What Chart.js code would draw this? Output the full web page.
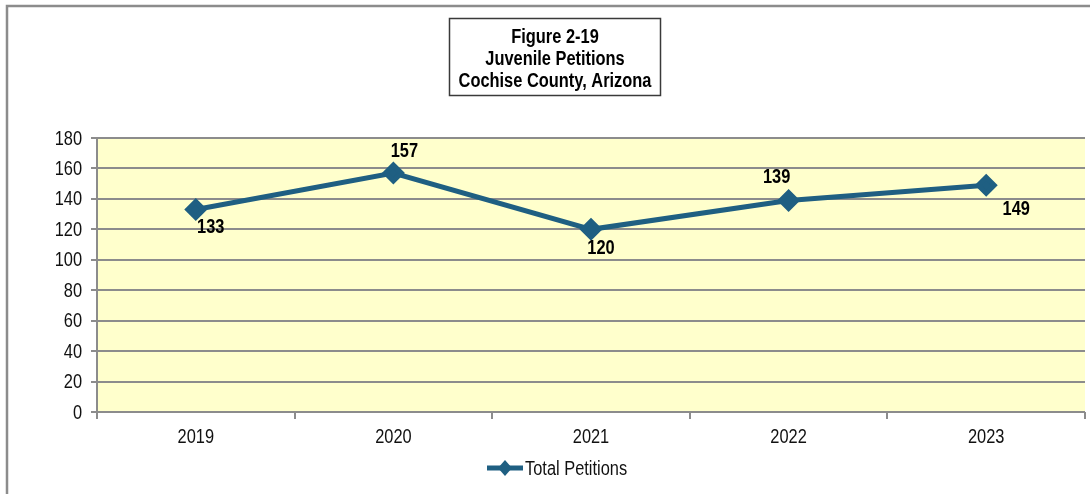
<!DOCTYPE html>
<html lang="en">
<head>
<meta charset="utf-8">
<title>Juvenile Petitions - Cochise County</title>
<script src="https://cdn.jsdelivr.net/npm/chart.js"></script>
<style>
  html, body { margin: 0; padding: 0; background: #fff; }
  #wrap { width: 1090px; height: 494px; position: relative; }
</style>
</head>
<body>
<div id="wrap"><canvas id="myChart"></canvas></div>
<script>
// data
var years = ['2019', '2020', '2021', '2022', '2023'];
var petitions = [133, 157, 120, 139, 149];
var seriesName = 'Total Petitions';
var titleLines = ['Figure 2-19', 'Juvenile Petitions', 'Cochise County, Arizona'];

// where each value label sits relative to its point (dx, dy)
var labelOffsets = [[15, 18], [11, -22], [10, 19], [-12, -23], [30, 24]];

var FONT = "'Liberation Sans', Arial, sans-serif";
var NARROW = 0.82;   // horizontal squeeze to get an Arial Narrow look
var LINE = '#1f5f82';
var GRID = '#8c8c8c';

function narrowText(ctx, text, x, y, align) {
  ctx.save();
  ctx.translate(x, y);
  ctx.scale(NARROW, 1);
  ctx.textAlign = align || 'center';
  ctx.fillText(text, 0, 0);
  ctx.restore();
}

// frame, plot background, title box, tick labels, value labels and legend
var decor = {
  id: 'decor',
  beforeDraw: function (chart) {
    var ctx = chart.ctx, a = chart.chartArea;
    ctx.save();
    ctx.fillStyle = '#ffffcc';
    ctx.fillRect(a.left, a.top, a.right - a.left, a.bottom - a.top);
    ctx.strokeStyle = GRID;
    ctx.lineWidth = 2.5;
    ctx.strokeRect(7, 6, 1100, 520);
    ctx.restore();
  },
  afterDraw: function (chart) {
    var ctx = chart.ctx;
    ctx.save();
    ctx.textBaseline = 'middle';

    // title box
    ctx.fillStyle = '#fff';
    ctx.fillRect(449, 18, 212, 78);
    ctx.strokeStyle = '#3a3a3a';
    ctx.lineWidth = 1.5;
    ctx.strokeRect(449.5, 18.5, 211, 77);
    ctx.fillStyle = '#000';
    ctx.font = 'bold 20px ' + FONT;
    titleLines.forEach(function (t, i) {
      narrowText(ctx, t, 555, 37 + i * 22);
    });

    // axis tick labels
    ctx.fillStyle = '#111';
    ctx.font = '20px ' + FONT;
    var xs = chart.scales.x, ys = chart.scales.y;
    xs.ticks.forEach(function (t, i) {
      narrowText(ctx, xs.getLabelForValue(t.value), xs.getPixelForTick(i), 437);
    });
    ys.ticks.forEach(function (t, i) {
      narrowText(ctx, String(t.value), ys.left + 82, ys.getPixelForTick(i) + 1, 'right');
    });

    // value labels
    var meta = chart.getDatasetMeta(0);
    ctx.fillStyle = '#000';
    ctx.font = 'bold 20px ' + FONT;
    meta.data.forEach(function (pt, i) {
      var o = labelOffsets[i];
      narrowText(ctx, String(petitions[i]), pt.x + o[0], pt.y + o[1]);
    });

    // legend
    var ly = 468;
    ctx.strokeStyle = LINE;
    ctx.lineWidth = 5;
    ctx.beginPath();
    ctx.moveTo(487, ly);
    ctx.lineTo(523, ly);
    ctx.stroke();
    ctx.fillStyle = LINE;
    ctx.beginPath();
    ctx.moveTo(505, ly - 8);
    ctx.lineTo(512, ly);
    ctx.lineTo(505, ly + 8);
    ctx.lineTo(498, ly);
    ctx.closePath();
    ctx.fill();
    ctx.fillStyle = '#111';
    ctx.font = '20px ' + FONT;
    narrowText(ctx, seriesName, 525, ly + 1, 'left');
    ctx.restore();
  }
};

new Chart('myChart', {
  type: 'line',
  data: {
    labels: years,
    datasets: [{
      label: seriesName,
      data: petitions,
      borderColor: LINE,
      backgroundColor: LINE,
      borderWidth: 5,
      pointStyle: 'rectRot',
      pointRadius: 8,
      pointHoverRadius: 8,
      tension: 0
    }]
  },
  options: {
    responsive: true,
    maintainAspectRatio: false,
    animation: false,
    layout: { autoPadding: false, padding: { top: 138, right: 5, bottom: 0, left: 0 } },
    plugins: {
      legend: { display: false },
      tooltip: { enabled: false }
    },
    scales: {
      x: {
        offset: true,
        grid: { offset: true, drawOnChartArea: false, drawTicks: true, tickLength: 7, color: GRID, lineWidth: 2 },
        border: { display: false },
        ticks: { display: false },
        afterFit: function (s) { s.height = 82; s.paddingLeft = 0; s.paddingRight = 0; }
      },
      y: {
        min: 0,
        max: 180,
        ticks: { stepSize: 20, display: false },
        grid: { color: GRID, lineWidth: 2, tickLength: 6 },
        border: { color: GRID, width: 2 },
        afterFit: function (s) { s.width = 97; }
      }
    }
  },
  plugins: [decor]
});
</script>
</body>
</html>
